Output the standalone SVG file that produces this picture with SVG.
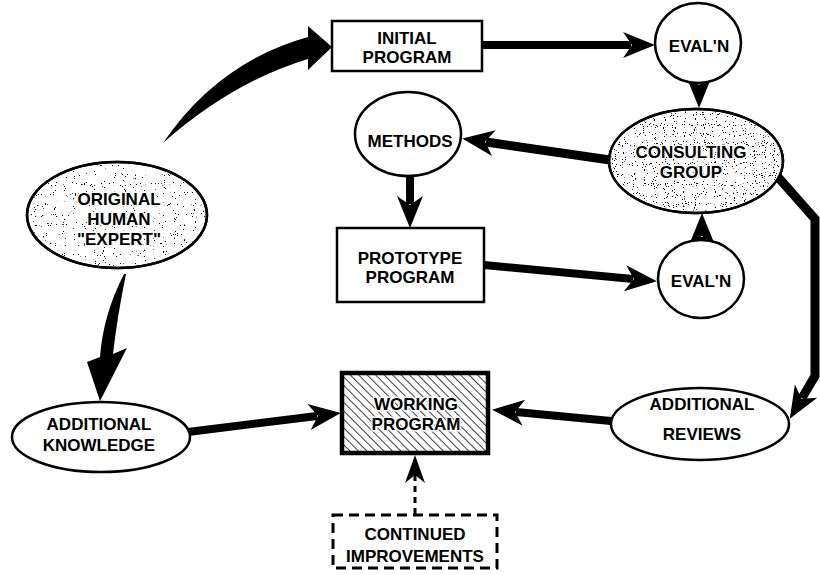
<svg xmlns="http://www.w3.org/2000/svg" width="820" height="575" viewBox="0 0 820 575">
<defs>
<style>
.lbl{font-family:"Liberation Sans",Arial,Helvetica,sans-serif;font-weight:bold;font-size:17px;fill:#000;text-anchor:middle}
.halo{stroke:#fff;stroke-width:3;paint-order:stroke;stroke-linejoin:round}
.node{fill:#fff;stroke:#000;stroke-width:2.5}
.conn{fill:none;stroke:#000;stroke-width:8;stroke-linejoin:miter}
.curve{fill:#000;stroke:none}
</style>
<marker id="head" markerUnits="userSpaceOnUse" viewBox="-10 -15 36 30" markerWidth="36" markerHeight="30" refX="0" refY="0" orient="auto">
<path d="M24,0 L-8,-13 L1,0 L-8,13 Z" fill="#000"/>
</marker>
<marker id="headS" markerUnits="userSpaceOnUse" viewBox="-10 -15 36 30" markerWidth="36" markerHeight="30" refX="0" refY="0" orient="auto">
<path d="M20,0 L-8,-10 L0,0 L-8,10 Z" fill="#000"/>
</marker>
<pattern id="hatch" width="6" height="6" patternUnits="userSpaceOnUse" patternTransform="rotate(-45)">
<line x1="0" y1="0" x2="0" y2="6" stroke="#000" stroke-width="1.5"/>
</pattern>
<filter id="stipLight" x="0" y="0" width="1" height="1">
<feTurbulence type="fractalNoise" baseFrequency="0.9" numOctaves="1" seed="4" result="n"/>
<feColorMatrix in="n" type="matrix" values="0 0 0 0 0  0 0 0 0 0  0 0 0 0 0  0 0 0 40 -27.5" result="d"/>
<feComposite in="d" in2="SourceGraphic" operator="in"/>
</filter>
<filter id="stipDense" x="0" y="0" width="1" height="1">
<feTurbulence type="fractalNoise" baseFrequency="0.9" numOctaves="1" seed="9" result="n"/>
<feColorMatrix in="n" type="matrix" values="0 0 0 0 0  0 0 0 0 0  0 0 0 0 0  0 0 0 35 -23" result="d"/>
<feComposite in="d" in2="SourceGraphic" operator="in"/>
</filter>
</defs>
<rect width="820" height="575" fill="#fff"/>

<g id="connectors">
<path class="curve" d="M163,143 Q218,62 308,37 L308,26 L332,47 L308,70 L308,59 Q232,82 163,143 Z"/>
<path class="curve" d="M124,274 L126,274 Q117,318 113,354 L127,348 L100,401 L87,362 L100,357 Q103,315 124,274 Z"/>
<path class="conn" d="M482,45 L631,45" marker-end="url(#head)"/>
<path class="conn" d="M699,80 L699,84" marker-end="url(#head)"/>
<path class="conn" d="M610,160 L486,142" style="stroke-width:9" marker-end="url(#head)"/>
<path class="conn" d="M410,176 L410,204" marker-end="url(#head)"/>
<path class="conn" d="M484,265 L633,279" marker-end="url(#head)"/>
<path class="conn" d="M702,245 L702,237" marker-end="url(#head)"/>
<path class="conn" d="M770,168 L815,219 L815,376 L802,398" style="stroke-width:9" marker-end="url(#head)"/>
<path class="conn" d="M611,421 L516,412" marker-end="url(#head)"/>
<path class="conn" d="M188,432 L317,416" marker-end="url(#head)"/>
<path class="conn" d="M415,514 L415,475" style="stroke-width:3;stroke-dasharray:6,5" marker-end="url(#headS)"/>
</g>

<g id="initial-program">
<rect class="node" x="332" y="21" width="150" height="50"/>
<text class="lbl" x="407" y="44">INITIAL</text>
<text class="lbl" x="407" y="63">PROGRAM</text>
</g>

<g id="evaln-top">
<ellipse class="node" cx="698" cy="43" rx="43" ry="40"/>
<text class="lbl" x="699" y="52">EVAL'N</text>
</g>

<g id="consulting-group">
<ellipse class="node" cx="696" cy="161" rx="87" ry="52"/>
<ellipse cx="696" cy="161" rx="85" ry="50" fill="#000" filter="url(#stipDense)"/>
<ellipse cx="696" cy="161" rx="87" ry="52" fill="none" stroke="#000" stroke-width="2.5"/>
<text class="lbl halo" x="691" y="158">CONSULTING</text>
<text class="lbl halo" x="691" y="178">GROUP</text>
</g>

<g id="original-expert">
<ellipse class="node" cx="117" cy="215" rx="90" ry="53"/>
<ellipse cx="117" cy="215" rx="88" ry="51" fill="#000" filter="url(#stipLight)"/>
<ellipse cx="117" cy="215" rx="90" ry="53" fill="none" stroke="#000" stroke-width="2.5"/>
<text class="lbl halo" x="119" y="205">ORIGINAL</text>
<text class="lbl halo" x="119" y="225">HUMAN</text>
<text class="lbl halo" x="119" y="245">"EXPERT"</text>
</g>

<g id="methods">
<ellipse class="node" cx="408" cy="134" rx="53" ry="42"/>
<text class="lbl" x="410" y="147">METHODS</text>
</g>

<g id="prototype-program">
<rect class="node" x="337" y="228" width="147" height="74"/>
<text class="lbl" x="410" y="264">PROTOTYPE</text>
<text class="lbl" x="410" y="283">PROGRAM</text>
</g>

<g id="evaln-bottom">
<ellipse class="node" cx="701" cy="279" rx="43" ry="39"/>
<text class="lbl" x="701" y="287">EVAL'N</text>
</g>

<g id="additional-reviews">
<ellipse class="node" cx="700" cy="424" rx="89" ry="36"/>
<text class="lbl" x="702" y="410">ADDITIONAL</text>
<text class="lbl" x="702" y="440">REVIEWS</text>
</g>

<g id="working-program">
<rect x="342" y="373" width="146" height="80" fill="url(#hatch)" stroke="#000" stroke-width="4.5"/>
<text class="lbl halo" x="416" y="410">WORKING</text>
<text class="lbl halo" x="416" y="430">PROGRAM</text>
</g>

<g id="additional-knowledge">
<ellipse class="node" cx="101" cy="437" rx="89" ry="35"/>
<text class="lbl" x="99" y="430">ADDITIONAL</text>
<text class="lbl" x="99" y="451">KNOWLEDGE</text>
</g>

<g id="continued-improvements">
<rect x="333" y="515" width="164" height="53" fill="#fff" stroke="#000" stroke-width="3" stroke-dasharray="10,6"/>
<text class="lbl" x="415" y="540">CONTINUED</text>
<text class="lbl" x="415" y="562">IMPROVEMENTS</text>
</g>
</svg>
